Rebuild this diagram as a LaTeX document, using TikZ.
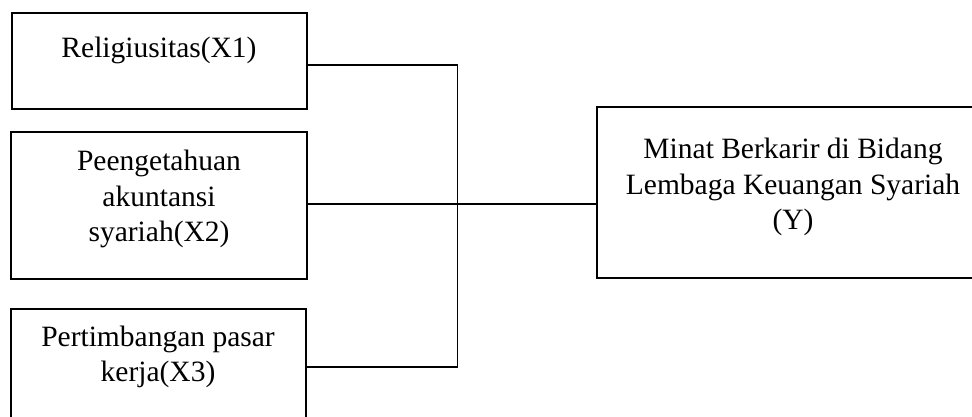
\documentclass[tikz,border=0pt]{standalone}
\usepackage{fontspec}
\setmainfont{Liberation Serif}
\begin{document}
\begin{tikzpicture}[x=1pt,y=-1pt,
  box/.style={draw=black,line width=2.8pt,rectangle,inner sep=0pt,anchor=center},
  lbl/.style={align=center,font=\fontsize{29.5}{35.5}\selectfont,inner sep=0pt,anchor=center},
  conn/.style={draw=black,line width=1.8pt}]
\useasboundingbox (0,0) rectangle (972,416);
\clip (0,0) rectangle (972,416);
\fill[white] (0,0) rectangle (972,416);
% boxes
\node[box,minimum width=295pt,minimum height=96pt] (b1) at (159.5,61) {};
\node[box,minimum width=296pt,minimum height=147pt] (b2) at (159,205.5) {};
\node[box,minimum width=295pt,minimum height=140pt] (b3) at (158.5,379) {};
\node[box,minimum width=393pt,minimum height=171pt] (y) at (793.5,192.5) {};
% texts
\node[lbl] (t1) at (159,50) {Religiusitas(X1)};
\node[lbl] (t2) at (159,199) {Peengetahuan\\akuntansi\\syariah(X2)};
\node[lbl] (t3) at (158,357) {Pertimbangan pasar\\kerja(X3)};
\node[lbl] (ty) at (793,187) {Minat Berkarir di Bidang\\Lembaga Keuangan Syariah\\(Y)};
% connectors
\coordinate (j1) at (457.5,65);
\coordinate (j3) at (457.5,367);
\coordinate (jm) at (457.5,204);
\coordinate (e2) at (478,204);
\draw[conn] (b1.east |- j1) -- (j1) -- (j3) -- (b3.east |- j3);
\draw[conn] (b2.east |- jm) -- (e2);
\draw[conn] (jm) -- (y.west |- jm);
\end{tikzpicture}
\end{document}
